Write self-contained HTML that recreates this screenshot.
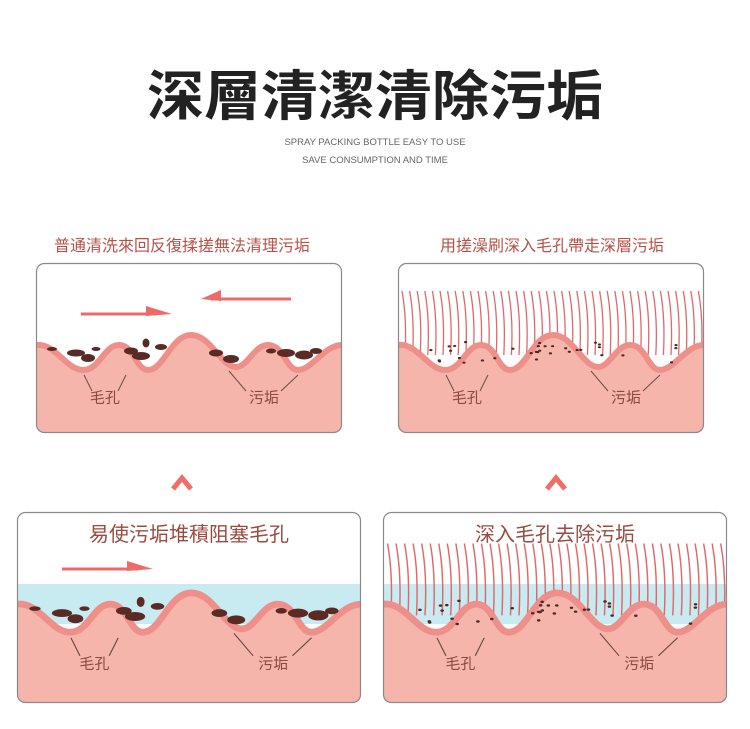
<!DOCTYPE html>
<html><head><meta charset="utf-8"><style>
html,body{margin:0;padding:0;background:#fff;width:750px;height:729px;overflow:hidden}
svg{display:block}
text{font-family:"Liberation Sans","Noto Sans CJK SC",sans-serif}
</style></head><body>
<svg id="s" width="750" height="729" viewBox="0 0 750 729" xmlns="http://www.w3.org/2000/svg">
<defs>
<g id="skin">
<path d="M0,82 C20,80 30,107 47,107 C64,107 68,82 83,82 C98,82 100,107 112,107 C128,107 135,72 155,72 C175,72 185,104 200,104 C212,104 218,82 232,82 C248,82 250,107 262,107 C276,107 288,82 306,82 L306,170 L0,170 Z" fill="#f5b5ab"/>
<path d="M0,82 C20,80 30,107 47,107 C64,107 68,82 83,82 C98,82 100,107 112,107 C128,107 135,72 155,72 C175,72 185,104 200,104 C212,104 218,82 232,82 C248,82 250,107 262,107 C276,107 288,82 306,82" fill="none" stroke="#ee8f8a" stroke-width="6"/>
</g>
</defs>
<text x="375" y="115" text-anchor="middle" font-size="54" fill="#222" textLength="456" lengthAdjust="spacingAndGlyphs" font-weight="bold">深層清潔清除污垢</text>
<text x="375" y="145" text-anchor="middle" font-size="9.5" fill="#666">SPRAY PACKING BOTTLE EASY TO USE</text>
<text x="375" y="163" text-anchor="middle" font-size="9.5" fill="#666">SAVE CONSUMPTION AND TIME</text>
<text x="182" y="251" text-anchor="middle" font-size="16" fill="#b8504a">普通清洗來回反復揉搓無法清理污垢</text>
<text x="552" y="251" text-anchor="middle" font-size="16" fill="#b8504a">用搓澡刷深入毛孔帶走深層污垢</text>
<g id="panels"></g>
<path d="M173,489 L182,478 L191,489" fill="none" stroke="#ee6e6a" stroke-width="5"/>
<path d="M547,489 L556,478 L565,489" fill="none" stroke="#ee6e6a" stroke-width="5"/>
</svg>
<script>
var NS="http://www.w3.org/2000/svg",P=document.getElementById("panels");
function el(t,a,p){var e=document.createElementNS(NS,t);for(var k in a)e.setAttribute(k,a[k]);(p||P).appendChild(e);return e}
var panels=[
{x:36,y:263,w:306,h:170,sx:1,sy:1,arrows:2,dirt:1},
{x:398,y:263,w:306,h:170,sx:1,sy:1,hair:1,dirt:2},
{x:17,y:512,w:344,h:191,sx:344/306,sy:191/170,arrows:1,dirt:1,water:1,title:"易使污垢堆積阻塞毛孔"},
{x:383,y:512,w:344,h:191,sx:344/306,sy:191/170,hair:1,dirt:2,water:1,title:"深入毛孔去除污垢"}];
panels.forEach(function(p,i){
 var g=el("g",{transform:"translate("+p.x+","+p.y+")"});
 var cid="cp"+i;var cp=el("clipPath",{id:cid},g);el("rect",{x:0,y:0,width:p.w,height:p.h,rx:8},cp);
 var inner=el("g",{"clip-path":"url(#"+cid+")"},g);
 el("rect",{x:0,y:0,width:p.w,height:p.h,fill:"#fff"},inner);
 if(p.water)el("rect",{x:0,y:72,width:p.w,height:40,fill:"#c8ebf2"},inner);
 var sg=el("g",{transform:"scale("+p.sx+","+p.sy+")"},inner);
 if(p.hair){for(var hx=4;hx<306;hx+=7.6){el("path",{d:"M"+hx+",28 Q"+(hx+5)+",55 "+(hx+3)+",92",fill:"none",stroke:"#e0686a","stroke-width":1.3},sg)}}
 el("use",{href:"#skin"},sg);
 if(p.dirt==1){[[40,90,14,5],[52,95,10,6],[95,88,10,5],[105,93,14,6],[110,80,3,7],[125,84,8,4],[180,90,10,5],[195,96,12,6],[235,88,6,3],[250,90,14,6],[268,92,14,7],[280,88,8,4],[16,86,6,2],[60,86,5,2]].forEach(function(d){el("ellipse",{cx:d[0],cy:d[1],rx:d[2]/2+2,ry:d[3]/2+1,fill:"#5a2a24"},sg)})}
 if(p.dirt==2){var seed=7;function r(){seed=(seed*9301+49297)%233280;return seed/233280}
  for(var k=0;k<34;k++){var dx=20+r()*270,dy=78+r()*22;el("ellipse",{cx:dx,cy:dy,rx:1.6,ry:1.1,fill:"#4a2a28"},sg)}}
 el("path",{d:"M48,112 L56,128 M90,112 L82,128 M193,108 L210,128 M262,112 L245,128",stroke:"#6a4a44","stroke-width":1,fill:"none"},sg);
 el("text",{x:p.w*0.225,y:p.h*0.82,"font-size":15,fill:"#8a4a40","text-anchor":"middle"},inner).textContent="毛孔";
 el("text",{x:p.w*0.745,y:p.h*0.82,"font-size":15,fill:"#8a4a40","text-anchor":"middle"},inner).textContent="污垢";
 if(p.arrows){var ay=p.arrows==2?51:57;el("path",{d:"M45,"+ay+" L120,"+ay,stroke:"#ee6a66","stroke-width":3},inner);
  el("path",{d:"M110,"+(ay-8)+" L136,"+ay+" L110,"+(ay+2)+"Z",fill:"#ee6a66"},inner);
  if(p.arrows==2){el("path",{d:"M175,36 L255,36",stroke:"#ee6a66","stroke-width":3},inner);el("path",{d:"M165,36 L185,27 L185,38Z",fill:"#ee6a66"},inner);}}
 if(p.title)el("text",{x:p.w/2,y:29,"font-size":20,fill:"#9a4a40","text-anchor":"middle"},inner).textContent=p.title;
 el("rect",{x:0.5,y:0.5,width:p.w-1,height:p.h-1,rx:8,fill:"none",stroke:"#8a8a8a","stroke-width":1.2},g);
});
</script>
</body></html>
